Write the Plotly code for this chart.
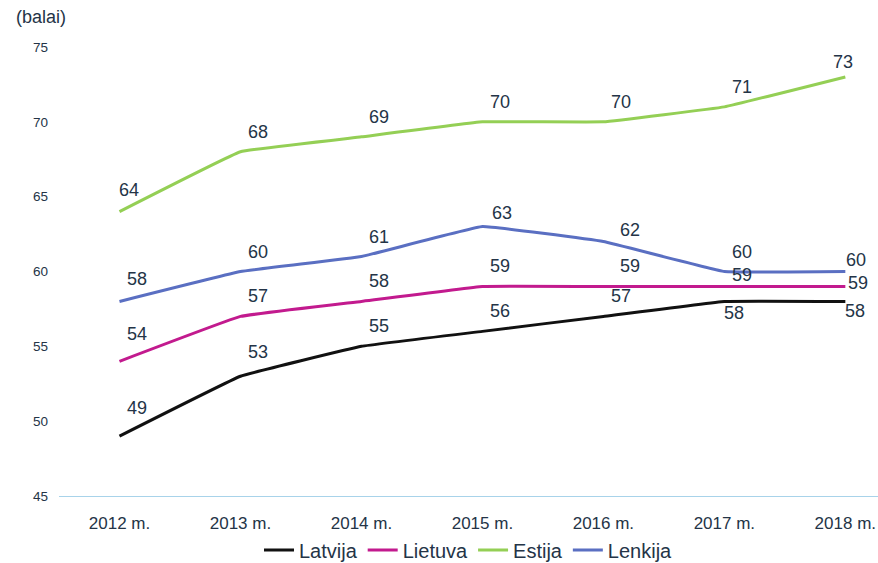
import plotly.graph_objects as go

years = ["2012 m.", "2013 m.", "2014 m.", "2015 m.", "2016 m.", "2017 m.", "2018 m."]
latvija = [49, 53, 55, 56, 57, 58, 58]
lietuva = [54, 57, 58, 59, 59, 59, 59]
estija = [64, 68, 69, 70, 70, 71, 73]
lenkija = [58, 60, 61, 63, 62, 60, 60]
y_ticks = [45, 50, 55, 60, 65, 70, 75]

series = [
    ("Latvija", latvija, "#111111"),
    ("Lietuva", lietuva, "#c21a8e"),
    ("Estija", estija, "#94cf55"),
    ("Lenkija", lenkija, "#5a6fc2"),
]

# label offsets in px (dx, dy) — default and exceptions
default_off = (18, 20)
label_off = {
    ("Latvija", 0): (18, 28),
    ("Latvija", 1): (18, 24),
    ("Latvija", 5): (10, -12),
    ("Latvija", 6): (10, -10),
    ("Lietuva", 0): (18, 27),
    ("Lietuva", 5): (18, 11),
    ("Lietuva", 6): (13, 3),
    ("Estija", 0): (10, 22),
    ("Estija", 6): (-2, 15),
    ("Lenkija", 0): (18, 22),
    ("Lenkija", 3): (20, 14),
    ("Lenkija", 4): (27, 12),
    ("Lenkija", 6): (11, 12),
    ("Lietuva", 4): (27, 20),
}

text_color = "#243447"
font_family = "Liberation Sans, Arial, sans-serif"

fig = go.Figure()
annotations = []
for name, vals, color in series:
    fig.add_trace(go.Scatter(
        x=years, y=vals, name=name, mode="lines",
        line=dict(color=color, width=3, shape="spline", smoothing=0.2),
        hoverinfo="skip",
    ))
    for i, v in enumerate(vals):
        dx, dy = label_off.get((name, i), default_off)
        annotations.append(dict(
            x=years[i], y=v, xref="x", yref="y", text=str(v),
            showarrow=False, xshift=dx, yshift=dy,
            xanchor="center", yanchor="middle",
            font=dict(size=18, color=text_color, family=font_family),
        ))

annotations.append(dict(
    x=-0.055, y=1.067, xref="paper", yref="paper", text="(balai)",
    showarrow=False, xanchor="left", yanchor="middle",
    font=dict(size=18, color=text_color, family=font_family),
))

fig.update_layout(
    width=878, height=563,
    margin=dict(l=59, r=0, t=47, b=67, autoexpand=False),
    plot_bgcolor="white", paper_bgcolor="white",
    font=dict(family=font_family, color=text_color),
    showlegend=True,
    legend=dict(
        orientation="h", x=0.5, xanchor="center", y=-0.12, yanchor="middle",
        font=dict(size=20, color=text_color, family=font_family),
        itemwidth=30, traceorder="normal",
    ),
    annotations=annotations,
    xaxis=dict(
        type="category", range=[-0.5, 6.27], automargin=False,
        showgrid=False, zeroline=False,
        showline=True, linecolor="#a8d3ea", linewidth=1,
        ticks="", ticklabelstandoff=12,
        tickfont=dict(size=17, color=text_color, family=font_family),
    ),
    yaxis=dict(
        range=[45, 75], tickvals=y_ticks, automargin=False,
        showgrid=False, zeroline=False, showline=False,
        ticks="", ticklabelstandoff=10,
        tickfont=dict(size=13.5, color=text_color, family=font_family),
    ),
)

fig.write_html(
    "out.html",
    config={"displayModeBar": False},
    post_script="document.body.style.margin='0';document.body.style.overflow='hidden';",
)
